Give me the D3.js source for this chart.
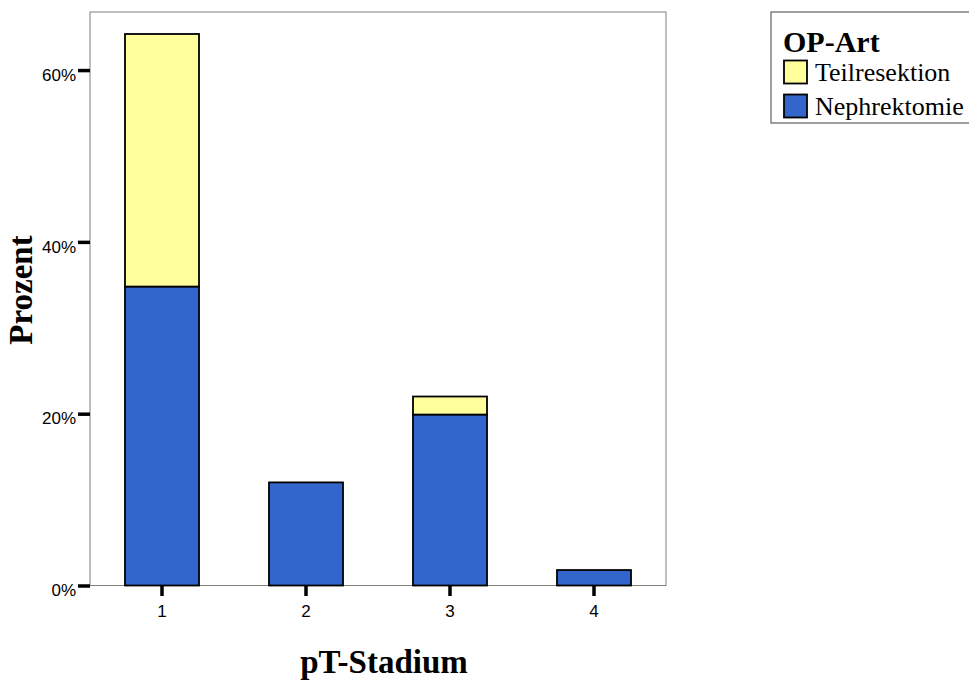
<!DOCTYPE html>
<html><head><meta charset="utf-8">
<script src="https://cdn.jsdelivr.net/npm/d3@7"></script>
<style>body{margin:0;background:#fff;overflow:hidden}</style>
</head><body>
<script>
const categories = ["1","2","3","4"];
const seriesNames = ["Nephrektomie","Teilresektion"];
const nephrektomie = [34.8, 12.0, 19.9, 1.8];
const teilresektion = [29.4, 0, 2.1, 0];
const yTicks = [0, 20, 40, 60];
const colors = {Nephrektomie:"#3366cc", Teilresektion:"#ffff9c"};

const W=969,H=682;
const svg=d3.select("body").append("svg").attr("width",W).attr("height",H).style("display","block");
const m={l:90,t:12,r:666,b:585.5};
const x=d3.scaleBand().domain(categories).range([m.l,m.r]).paddingInner(0.486).paddingOuter(0.243);
const y=d3.scaleLinear().domain([0,66.76]).range([m.b,m.t]);

svg.append("rect").attr("x",m.l).attr("y",m.t).attr("width",m.r-m.l).attr("height",m.b-m.t)
  .attr("fill","none").attr("stroke","#808080").attr("stroke-width",1);

const rows=categories.map((c,i)=>({cat:c,Nephrektomie:nephrektomie[i],Teilresektion:teilresektion[i]}));
const stack=d3.stack().keys(seriesNames)(rows);
stack.forEach(s=>{
  svg.append("g").selectAll("rect").data(s.filter(d=>d[1]-d[0]>0)).join("rect")
    .attr("x",d=>x(d.data.cat)).attr("width",x.bandwidth())
    .attr("y",d=>y(d[1])).attr("height",d=>y(d[0])-y(d[1]))
    .attr("fill",colors[s.key]).attr("stroke","#000").attr("stroke-width",1.8);
});

const ya=svg.append("g").attr("transform",`translate(${m.l},0)`)
  .call(d3.axisLeft(y).tickValues(yTicks).tickFormat(d=>d+"%").tickSize(12).tickPadding(2));
ya.select(".domain").remove();
ya.selectAll("line").attr("stroke","#000").attr("stroke-width",3.5);
ya.selectAll("text").attr("font-family","Liberation Sans, Arial, sans-serif").attr("font-size",17).attr("fill","#000").attr("dy","0.6em");

const xa=svg.append("g").attr("transform",`translate(0,${m.b})`)
  .call(d3.axisBottom(x).tickSize(10.5).tickPadding(4));
xa.select(".domain").remove();
xa.selectAll("line").attr("stroke","#000").attr("stroke-width",3.5);
xa.selectAll("text").attr("font-family","Liberation Sans, Arial, sans-serif").attr("font-size",17).attr("fill","#000").attr("dy","1em");

svg.append("text").attr("x",384).attr("y",673).attr("text-anchor","middle")
  .attr("font-family","Liberation Serif, Times New Roman, serif").attr("font-weight","bold").attr("font-size",33).text("pT-Stadium");
svg.append("text").attr("transform","translate(32,290) rotate(-90)").attr("text-anchor","middle")
  .attr("font-family","Liberation Serif, Times New Roman, serif").attr("font-weight","bold").attr("font-size",33).text("Prozent");

// legend
const lg=svg.append("g");
lg.append("rect").attr("x",771).attr("y",12).attr("width",200).attr("height",111)
  .attr("fill","#fff").attr("stroke","#606060").attr("stroke-width",1.2);
lg.append("text").attr("x",783).attr("y",52).attr("font-family","Liberation Serif, Times New Roman, serif")
  .attr("font-weight","bold").attr("font-size",30).text("OP-Art");
const items=["Teilresektion","Nephrektomie"];
items.forEach((k,i)=>{
  const yy=60.5+i*34;
  lg.append("rect").attr("x",784).attr("y",yy).attr("width",23).attr("height",23)
    .attr("fill",colors[k]).attr("stroke","#000").attr("stroke-width",1.8);
  lg.append("text").attr("x",815).attr("y",yy+20.5).attr("font-family","Liberation Serif, Times New Roman, serif")
    .attr("font-size",26).text(k);
});
</script>
</body></html>
